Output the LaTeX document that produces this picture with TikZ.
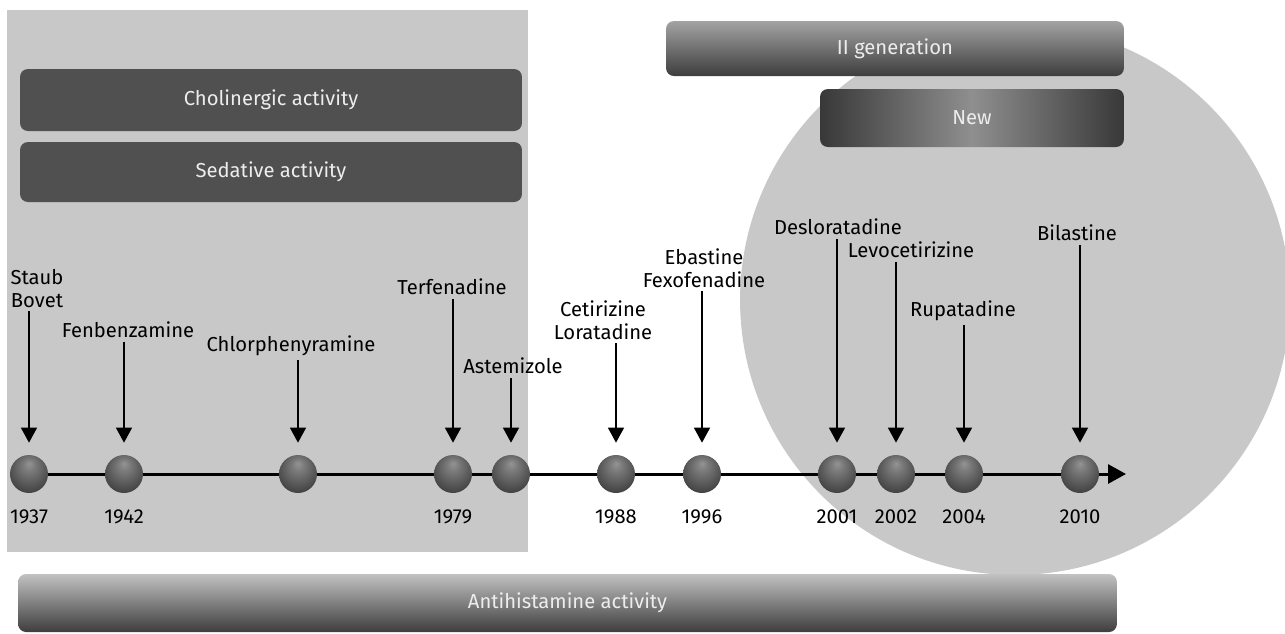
\documentclass[tikz,border=0pt]{standalone}
\usepackage{fontspec}
\setmainfont{Fira Sans}
\usepackage{tikz}
\usetikzlibrary{arrows.meta, positioning, shadings}

\definecolor{panelgray}{HTML}{C8C8C8}
\definecolor{bardark}{HTML}{505050}
\definecolor{bartext}{HTML}{EDEDED}
\pgfdeclareradialshading{sphere}{\pgfpoint{0bp}{14bp}}{%
  color(0bp)=(black!42); color(8bp)=(black!52); color(28bp)=(black!72); color(50bp)=(black!88)}

\tikzset{
  bar/.style={rounded corners=4.5pt, text=bartext, inner sep=0pt},
  ball/.style={circle, shading=sphere, minimum size=0.76cm, inner sep=0pt},
  drug/.style={align=center, inner sep=2pt},
  yearlbl/.style={inner sep=0pt},
  pointer/.style={line width=0.8pt, -{Triangle[length=0.3cm,width=0.32cm]}, shorten >=0.24cm},
  timeline/.style={line width=1.7pt, -{Triangle[length=0.36cm,width=0.38cm]}}
}

\begin{document}
\begin{tikzpicture}[x=0.02cm, y=-0.02cm, font=\fontsize{11.5}{13}\selectfont]
    \useasboundingbox (0,0) rectangle (1285,633);

    % Grey backgrounds: old generation panel and new generation disc
    \fill[panelgray] (7,10) rectangle (528,552);
    \fill[panelgray] (1015,300) circle[radius=5.5cm];

    % Activity bars
    \node[bar, fill=bardark, minimum width=10.04cm, minimum height=1.24cm] (cholin) at (271,100) {Cholinergic activity};
    \node[bar, fill=bardark, minimum width=10.04cm, minimum height=1.2cm] (sedat) at (271,172) {Sedative activity};
    \node[bar, top color=black!36, bottom color=black!76, minimum width=9.16cm, minimum height=1.1cm] (gen2) at (895,48.5) {II generation};
    \node[bar, left color=black!78, right color=black!78, middle color=black!44, minimum width=6.08cm, minimum height=1.16cm] (newgen) at (972,118) {New};
    \node[bar, top color=black!24, bottom color=black!76, minimum width=21.98cm, minimum height=1.16cm] (antihist) at (567.5,603) {Antihistamine activity};

    % Time axis
    \coordinate (start) at (29,474);
    \coordinate (tip) at (1126,474);
    \draw[timeline] (start) -- (tip);

    \foreach \i/\bx in {1/29, 2/124, 3/298, 4/453, 5/511, 6/616, 7/702, 8/837, 9/896, 10/964, 11/1080}
        \node[ball] (b\i) at (\bx,474) {};

    % Drug names with arrows
    \foreach \i/\lx/\ly/\txt in {1/37/288.5/{Staub\\Bovet}, 2/128/330/Fenbenzamine, 3/291/346/Chlorphenyramine,
        4/452/287/Terfenadine, 5/513/366/Astemizole, 6/603/320/{Cetirizine\\Loratadine},
        7/704/268/{Ebastine\\Fexofenadine}, 8/838/227/Desloratadine, 9/911/250/Levocetirizine,
        10/963/311/Rupatadine, 11/1077/233/Bilastine}
    {
        \node[drug] (l\i) at (\lx,\ly) {\txt};
        \draw[pointer] (l\i.south -| b\i) -- (b\i);
    }

    % Years
    \foreach \i/\yr in {1/1937, 2/1942, 4/1979, 6/1988, 7/1996, 8/2001, 9/2002, 10/2004, 11/2010}
        \node[yearlbl, below=0.33cm of b\i] (y\i) {\yr};

\end{tikzpicture}
\end{document}
